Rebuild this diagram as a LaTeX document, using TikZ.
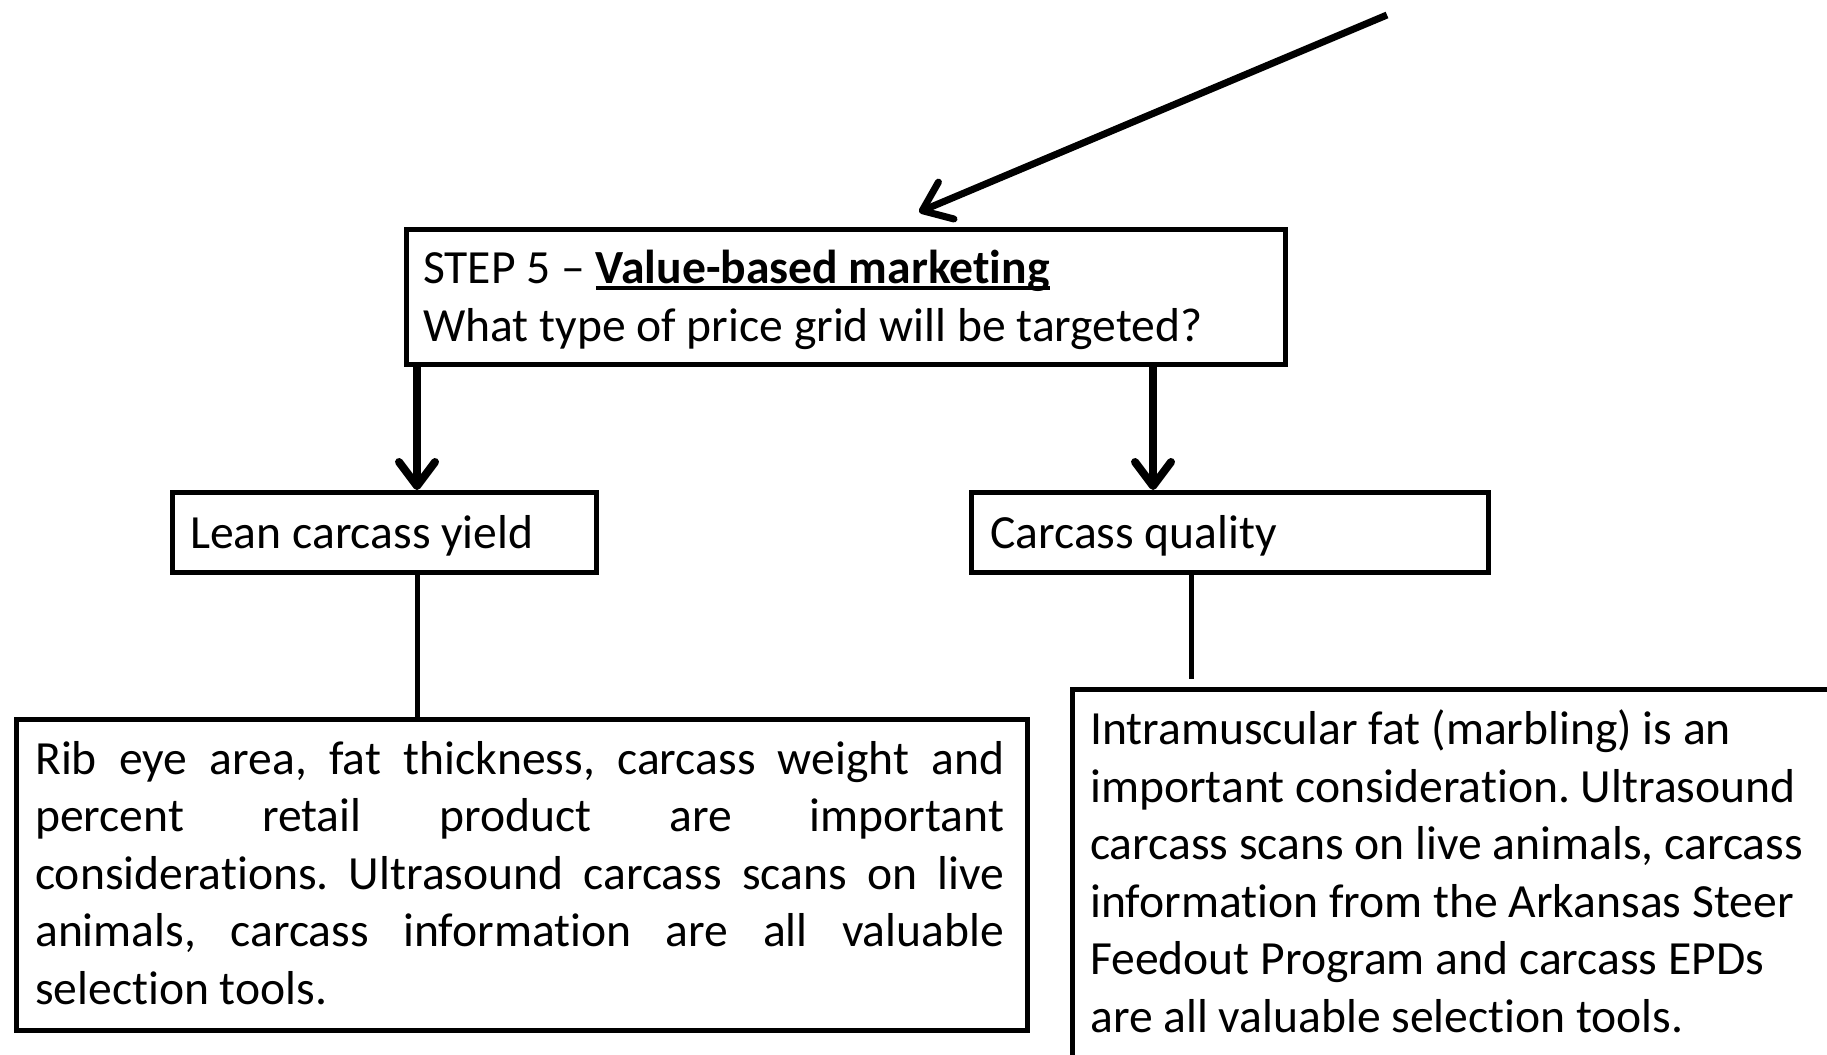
\documentclass[tikz,border=0pt]{standalone}
\usepackage{fontspec}
\setmainfont{Carlito}[Ligatures={TeX,NoCommon}]
\usetikzlibrary{arrows.meta}
\newcommand\myul[1]{\setbox0\hbox{#1}\rlap{\rule[-6pt]{\wd0}{3.2pt}}\box0}
\tikzset{
  box/.style={draw=black, line width=5pt, fill=white, anchor=north west, inner sep=0pt},
  txt/.style={inner sep=0pt, font=\fontsize{47.6}{57.5}\selectfont\frenchspacing},
  conn/.style={draw=black, line width=5pt},
  arr/.style={draw=black, line width=8pt, -{Straight Barb[length=24pt,width=36pt,round]}},
  toparr/.style={draw=black, line width=7pt, -{Straight Barb[length=26pt,width=40pt,round]}}
}
\begin{document}
\begin{tikzpicture}[x=1pt,y=-1pt]
\useasboundingbox (0,0) rectangle (1827,1054);
\clip (0,0) rectangle (1827,1054);
\fill[white] (0,0) rectangle (1827,1054);

% boxes
\node[box, minimum width=879pt, minimum height=135pt] (top) at (404,227) {};
\node[box, minimum width=424pt, minimum height=80pt] (lean) at (170,490) {};
\node[box, minimum width=517pt, minimum height=80pt] (qual) at (969,490) {};
\node[box, minimum width=1011pt, minimum height=311pt] (leanbig) at (14,717) {};
\node[box, minimum width=800pt, minimum height=420pt] (qualbig) at (1070,687) {};

% texts (base of a multi-line node = baseline of its last line)
\node[txt, anchor=base west, align=left] (toptext) at (423,341)
  {STEP 5 -- \textbf{\myul{Value-based marketing}}\\What type of price grid will be targeted?};
\node[txt, anchor=base west] (leantext) at (190,548) {Lean carcass yield};
\node[txt, anchor=base west] (qualtext) at (990,548) {Carcass quality};
\node[txt, anchor=base west, text width=969pt, align=justify] (leanbigtext) at (35,774)
  {Rib eye area, fat thickness, carcass weight and\linebreak
   percent retail product are important\linebreak
   considerations. Ultrasound carcass scans on live\linebreak
   animals, carcass information are all valuable\linebreak
   selection tools.};
\node[txt, anchor=base west, align=left] (qualbigtext) at (1090,1032)
  {Intramuscular fat (marbling) is an\\
   important consideration. Ultrasound\\
   carcass scans on live animals, carcass\\
   information from the Arkansas Steer\\
   Feedout Program and carcass EPDs\\
   are all valuable selection tools.};

% connectors
\coordinate (xl) at (417,0);
\coordinate (xr) at (1153,0);
\coordinate (xq) at (1191,0);
\coordinate (start) at (1387,15);
\coordinate (tipend) at (919,212);
\coordinate (qend) at (1191,679);

\draw[toparr] (start) -- (tipend);
\draw[arr] (top.south -| xl) -- (lean.north -| xl);
\draw[arr] (top.south -| xr) -- (qual.north -| xr);
\draw[conn] (lean.south -| xl) -- (leanbig.north -| xl);
\draw[conn] (qual.south -| xq) -- (qend);
\end{tikzpicture}
\end{document}
